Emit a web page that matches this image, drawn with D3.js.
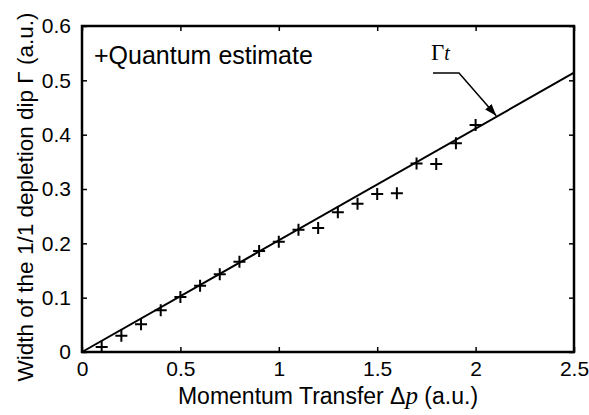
<!DOCTYPE html>
<html>
<head>
<meta charset="utf-8">
<script src="https://cdn.jsdelivr.net/npm/d3@7"></script>
<style>
  body { margin: 0; background: #fff; }
  svg { font-family: "Liberation Sans", Arial, sans-serif; }
</style>
</head>
<body>
<div id="chart"></div>
<script>
// momentum transfer values of the quantum estimate
const momentum = [0.1, 0.2, 0.3, 0.4, 0.5, 0.6, 0.7, 0.8, 0.9, 1.0, 1.1, 1.2, 1.3, 1.4, 1.5, 1.6, 1.7, 1.8, 1.9, 2.0]
const quantum = [0.009, 0.030, 0.051, 0.077, 0.101, 0.122, 0.143, 0.166, 0.186, 0.203, 0.225, 0.228, 0.257, 0.273, 0.291, 0.292, 0.347, 0.346, 0.384, 0.418]
// theory line Gamma_t
const theoryX = [0, 2.5]
const theoryY = [0, 0.514]
const xTicks = [0, 0.5, 1, 1.5, 2, 2.5]
const yTicks = [0, 0.1, 0.2, 0.3, 0.4, 0.5, 0.6]

const width = 589, height = 415
const mLeft = 82, mRight = 574, mTop = 26, mBottom = 352

let svg = d3.select("#chart").append("svg")
  .attr("width", width).attr("height", height)

let x = d3.scaleLinear().domain([0, 2.5]).range([mLeft, mRight])
let y = d3.scaleLinear().domain([0, 0.6]).range([mBottom, mTop])

// axes with inward ticks on all four sides
svg.append("g").attr("transform", `translate(0,${mBottom})`)
  .call(d3.axisBottom(x).tickValues(xTicks).tickSize(-5).tickPadding(9).tickFormat(d3.format("")))
  .call(g => g.select(".domain").remove())
svg.append("g").attr("transform", `translate(${mLeft},0)`)
  .call(d3.axisLeft(y).tickValues(yTicks).tickSize(-5).tickPadding(11).tickFormat(d3.format("")))
  .call(g => g.select(".domain").remove())
svg.append("g").attr("transform", `translate(0,${mTop})`)
  .call(d3.axisTop(x).tickValues(xTicks).tickSize(-5).tickFormat(""))
  .call(g => g.select(".domain").remove())
svg.append("g").attr("transform", `translate(${mRight},0)`)
  .call(d3.axisRight(y).tickValues(yTicks).tickSize(-5).tickFormat(""))
  .call(g => g.select(".domain").remove())
svg.selectAll(".tick line").attr("stroke", "#000").attr("stroke-width", 1.5)
svg.selectAll(".tick text").attr("font-size", 21).attr("fill", "#000")
  .style("font-family", "'Liberation Sans', Arial, sans-serif")

// frame
svg.append("rect").attr("x", mLeft).attr("y", mTop)
  .attr("width", mRight - mLeft).attr("height", mBottom - mTop)
  .attr("fill", "none").attr("stroke", "#000").attr("stroke-width", 2.5)

// theory line
svg.append("path")
  .datum(theoryX.map((d, i) => [d, theoryY[i]]))
  .attr("d", d3.line().x(d => x(d[0])).y(d => y(d[1])))
  .attr("fill", "none").attr("stroke", "#000").attr("stroke-width", 2)

// plus markers
let s = 6
svg.append("g").selectAll("path")
  .data(momentum.map((d, i) => [d, quantum[i]]))
  .join("path")
  .attr("d", d => {
    let cx = x(d[0]), cy = y(d[1])
    return `M${cx - s},${cy}H${cx + s}M${cx},${cy - s}V${cy + s}`
  })
  .attr("stroke", "#000").attr("stroke-width", 2).attr("fill", "none")

// legend
svg.append("text").attr("x", 94).attr("y", 64)
  .style("font-size", "25px").text("+Quantum estimate")

// Gamma_t label with arrow
svg.append("defs").append("marker")
  .attr("id", "arrow").attr("viewBox", "0 0 10 10")
  .attr("refX", 10).attr("refY", 5)
  .attr("markerWidth", 8).attr("markerHeight", 8)
  .attr("orient", "auto-start-reverse")
  .append("path").attr("d", "M0,1.5L10,5L0,8.5Z").attr("fill", "#000")
svg.append("path")
  .attr("d", `M433,73H459L${x(2.105)},${y(0.433) - 1}`)
  .attr("fill", "none").attr("stroke", "#000").attr("stroke-width", 1.5)
  .attr("marker-end", "url(#arrow)")
let gt = svg.append("text").attr("x", 431).attr("y", 60)
  .style("font-family", "'Liberation Serif', 'Times New Roman', serif").style("font-size", "23px")
gt.append("tspan").text("Γ")
gt.append("tspan").style("font-style", "italic").style("font-size", "20px").text("t")

// axis titles
let xt = svg.append("text").attr("x", (mLeft + mRight) / 2).attr("y", 404)
  .attr("text-anchor", "middle").style("font-size", "23px")
xt.append("tspan").text("Momentum Transfer Δ")
xt.append("tspan").style("font-family", "'Liberation Serif', serif").style("font-style", "italic").style("font-size", "25px").text("p")
xt.append("tspan").text(" (a.u.)")

svg.append("text")
  .attr("transform", `translate(33,${(mTop + mBottom) / 2 + 8}) rotate(-90)`)
  .attr("text-anchor", "middle").style("font-size", "22.5px")
  .text("Width of the 1/1 depletion dip Γ (a.u.)")
</script>
</body>
</html>
